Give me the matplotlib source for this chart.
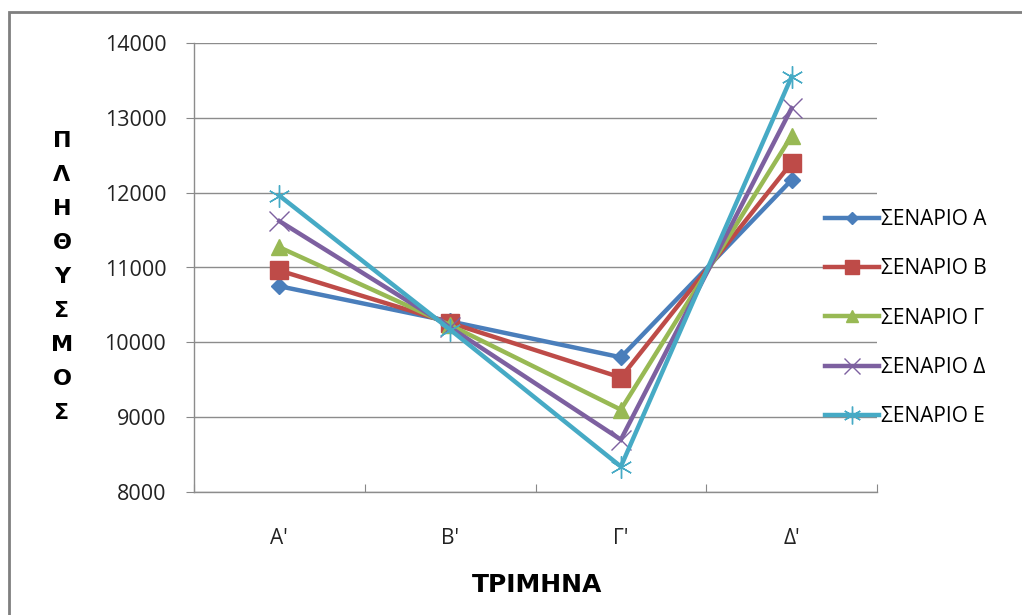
import matplotlib
matplotlib.use("Agg")
import matplotlib.pyplot as plt
from matplotlib.patches import Rectangle

plt.rcParams['font.family'] = ['Open Sans', 'DejaVu Sans']

quarters = ["Α'", "Β'", "Γ'", "Δ'"]
scenario_names = ["ΣΕΝΑΡΙΟ Α", "ΣΕΝΑΡΙΟ Β", "ΣΕΝΑΡΙΟ Γ", "ΣΕΝΑΡΙΟ Δ", "ΣΕΝΑΡΙΟ Ε"]
scenario_a = [10750, 10280, 9800, 12170]
scenario_b = [10960, 10260, 9530, 12400]
scenario_g = [11270, 10230, 9100, 12760]
scenario_d = [11620, 10200, 8700, 13130]
scenario_e = [11960, 10170, 8340, 13550]
y_ticks = [8000, 9000, 10000, 11000, 12000, 13000, 14000]

series = [scenario_a, scenario_b, scenario_g, scenario_d, scenario_e]
colors = ["#4A7EBB", "#BE4B48", "#98B954", "#7D60A0", "#46AAC5"]
markers = ["D", "s", "^", "x", (6, 2, 0)]
msizes = [8, 13, 11, 14, 16]

fig = plt.figure(figsize=(10.22, 6.15), dpi=100)
ax = fig.add_axes([194 / 1022, 1 - 492 / 615, (877 - 194) / 1022, (492 - 43) / 615])

xs = [i + 0.5 for i in range(len(quarters))]
for vals, name, c, m, ms in zip(series, scenario_names, colors, markers, msizes):
    ax.plot(xs, vals, color=c, lw=3.2, marker=m, markersize=ms,
            markerfacecolor=c, markeredgecolor=c, markeredgewidth=1.0,
            label=name, solid_joinstyle='miter', zorder=3)

ax.set_xlim(0, len(quarters))
ax.set_ylim(8000, 14000)
ax.set_yticks(y_ticks)
ax.set_yticklabels([str(v) for v in y_ticks], fontsize=15.5, color="#222222")
ax.set_xticks(range(len(quarters) + 1))
ax.set_xticklabels([])
ax.set_xticks(xs, minor=True)
ax.set_xticklabels(quarters, minor=True, fontsize=15, color="#222222")
ax.tick_params(axis='x', which='major', length=6, direction='in', color="#888888")
ax.tick_params(axis='x', which='minor', length=0, pad=26)
ax.tick_params(axis='y', length=6, direction='out', color="#888888", pad=14)

ax.grid(axis='y', color="#8c8c8c", lw=1.0)
ax.set_axisbelow(True)
for s in ("top", "right"):
    ax.spines[s].set_visible(False)
for s in ("left", "bottom"):
    ax.spines[s].set_color("#8c8c8c")
    ax.spines[s].set_linewidth(1.0)

# vertical stacked y-axis title
ylabel = "ΠΛΗΘΥΣΜΟΣ"
for i, ch in enumerate(ylabel):
    fig.text(62 / 1022, 1 - (141 + i * 34) / 615, ch, ha='center', va='center',
             fontsize=16, fontweight='bold', family=['DejaVu Sans'])

fig.text(537 / 1022, 1 - 585 / 615, "ΤΡΙΜΗΝΑ", ha='center', va='center',
         fontsize=18, fontweight='bold', family=['DejaVu Sans'])

leg = ax.legend(loc='upper left', bbox_to_anchor=(825 / 1022, 1 - 209 / 615),
                bbox_transform=fig.transFigure, frameon=False, fontsize=15,
                handlelength=2.6, labelspacing=1.36, handletextpad=0.1,
                markerscale=0.8, borderpad=0, borderaxespad=0)

# outer chart frame
fig.patches.append(Rectangle((9 / 1022, -0.05), 1.1, 1 - 12 / 615 + 0.05,
                             transform=fig.transFigure, fill=False,
                             edgecolor="#7f7f7f", lw=2.0))

fig.savefig("out.png", dpi=100)
